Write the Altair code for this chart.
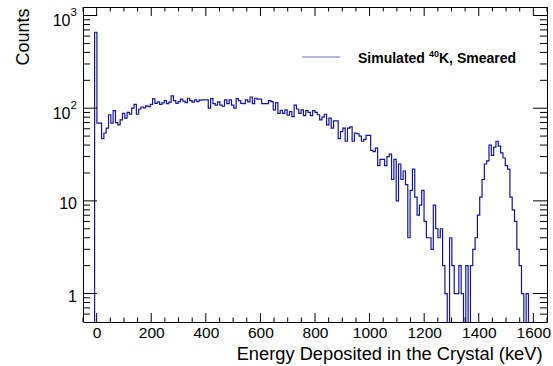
import altair as alt
import pandas as pd

# Histogram binning (keV)
BIN_LOW = -50.0
BIN_WIDTH = 8.5
X_DOMAIN = [-50, 1650]
Y_DOMAIN = [0.493, 1236]

# Bin contents, split by spectral region
counts_low = [0, 0, 0, 0, 0, 660,
              69, 69, 47, 54, 61, 85, 69, 94, 70, 66,
              75, 88, 78, 90, 86, 100, 110, 86, 98, 103,
              101, 106, 104, 110, 126, 113, 117, 110, 114, 121,
              112, 116, 136, 121, 113, 118, 125, 119, 115, 128,
              121, 116, 123, 118, 122, 123]
counts_mid = [123, 123, 100, 127, 112, 108, 117, 108, 105, 123,
              112, 123, 108, 100, 127, 121, 113, 112, 123, 117,
              132, 112, 128, 125, 125, 112, 112, 112, 121, 118,
              96, 115, 88, 95, 88, 96, 84, 92, 81, 108, 98, 88]
counts_edge = [96, 83, 94, 90, 83, 94, 90, 85, 75, 80,
               86, 66, 78, 61, 73, 73, 47, 56, 61, 44,
               61, 63, 44, 54, 53, 50, 44, 46, 51, 51,
               35, 34, 37, 24, 28, 28, 24, 30, 32, 17,
               28, 10, 25, 17, 21, 15, 4, 13, 22]
counts_peak = [11, 7, 9, 13, 6, 4, 4, 3, 9, 5,
               4, 5, 2, 1, 0, 4, 2, 1, 1, 2,
               1, 0, 2, 0, 2, 3, 4, 7, 11, 17,
               25, 27, 40, 31, 38, 44, 39, 33, 29, 24,
               22, 11, 8, 6, 3, 2, 1, 0, 1,
               0, 0, 0, 0, 0, 0, 0, 0]

x_major = [0, 200, 400, 600, 800, 1000, 1200, 1400, 1600]
x_minor = [v for v in range(-50, 1651, 50) if v % 200 != 0]
y_major = [1, 10, 100, 1000]
y_label_base = ["1", "10", "10", "10"]
y_label_exp = ["", "", "2", "3"]
y_minor = [0.6, 0.7, 0.8, 0.9, 2, 3, 4, 5, 6, 7, 8, 9,
           20, 30, 40, 50, 60, 70, 80, 90, 200, 300, 400, 500, 600, 700, 800, 900]

legend_parts = ["Simulated", "40", "K, Smeared"]
x_title = "Energy Deposited in the Crystal (keV)"
y_title = "Counts"

FONT = "Liberation Sans"
LINE_COLOR = "#1414a0"
W, H = 464, 315

counts = counts_low + counts_mid + counts_edge + counts_peak
edges = [BIN_LOW + BIN_WIDTH * i for i in range(len(counts) + 1)]
hist = pd.DataFrame({"energy": edges, "counts": counts + [counts[-1]]})

xscale = alt.Scale(domain=X_DOMAIN, nice=False, zero=False)
yscale = alt.Scale(type="log", domain=Y_DOMAIN, nice=False)

xaxis = alt.Axis(values=x_major, format="d", title=x_title, labelFontSize=15.5, labelFont=FONT,
                 labelColor="black", labelPadding=3, labelFlush=False,
                 titleFont=FONT, titleFontSize=18.3, titleFontWeight="normal",
                 titleColor="black", titleAnchor="end", titleAlign="right",
                 titleX=459, titleY=37, titleBaseline="alphabetic")
# y labels are drawn as text marks (for the raised exponents); the axis keeps the title
yaxis = alt.Axis(values=y_major, labels=False, title=y_title,
                 titleFont=FONT, titleFontSize=18, titleFontWeight="normal",
                 titleColor="black", titleAngle=270, titleAlign="right",
                 titleBaseline="alphabetic", titleX=-55, titleY=1)

# Empty bins are pushed below the frame and clipped, as on a log plot
spectrum = alt.Chart(hist).transform_calculate(
    shown="max(datum.counts, 0.05)"
).mark_line(interpolate="step-after", color=LINE_COLOR, strokeWidth=1.2, clip=True).encode(
    x=alt.X("energy:Q", scale=xscale, axis=xaxis),
    y=alt.Y("shown:Q", scale=yscale, axis=yaxis),
)


def x_ticks(vals, length):
    df = pd.DataFrame({"v": vals})
    base = alt.Chart(df).mark_rule(color="black", strokeWidth=1)
    bottom = base.encode(x=alt.X("v:Q", scale=xscale, axis=xaxis),
                         y=alt.value(H), y2=alt.value(H - length))
    top = base.encode(x=alt.X("v:Q", scale=xscale, axis=xaxis),
                      y=alt.value(0), y2=alt.value(length))
    return [bottom, top]


def y_ticks(vals, length):
    df = pd.DataFrame({"v": vals})
    base = alt.Chart(df).mark_rule(color="black", strokeWidth=1)
    left = base.encode(y=alt.Y("v:Q", scale=yscale, axis=yaxis),
                       x=alt.value(0), x2=alt.value(length))
    right = base.encode(y=alt.Y("v:Q", scale=yscale, axis=yaxis),
                        x=alt.value(W), x2=alt.value(W - length))
    return [left, right]


ticks = (x_ticks(x_major, 9) + x_ticks(x_minor, 4.5)
         + y_ticks(y_major, 14) + y_ticks(y_minor, 7))

ylab = pd.DataFrame({"v": y_major, "base": y_label_base, "exp": y_label_exp})
# plain labels sit a little below their tick; exponent labels are raised as a whole
ylab_plain = alt.Chart(ylab).transform_filter("datum.exp == ''").mark_text(
    align="right", baseline="alphabetic", font=FONT, fontSize=16, color="black", dy=8.3
).encode(y=alt.Y("v:Q", scale=yscale, axis=yaxis), text="base:N", x=alt.value(-6))
ylab_pow = alt.Chart(ylab).transform_filter("datum.exp != ''").mark_text(
    align="right", baseline="alphabetic", font=FONT, fontSize=16, color="black", dy=10.9
).encode(y=alt.Y("v:Q", scale=yscale, axis=yaxis), text="base:N", x=alt.value(-12.5))
ylab_exp = alt.Chart(ylab).transform_filter("datum.exp != ''").mark_text(
    align="right", baseline="alphabetic", font=FONT, fontSize=11.5, color="black", dy=0.9
).encode(y=alt.Y("v:Q", scale=yscale, axis=yaxis), text="exp:N", x=alt.value(-6))

one = pd.DataFrame({"t": [""]})
legend_line = alt.Chart(one).mark_rule(color=LINE_COLOR, strokeWidth=1.2, opacity=0.6).encode(
    x=alt.value(219), x2=alt.value(257), y=alt.value(50))


def label(text, x, y, size):
    df = pd.DataFrame({"t": [text]})
    return alt.Chart(df).mark_text(align="left", baseline="alphabetic", font=FONT,
                                   fontSize=size, fontWeight="bold", color="black").encode(
        text="t:N", x=alt.value(x), y=alt.value(y))


legend_text = [label(legend_parts[0], 275, 56, 14),
               label(legend_parts[1], 346, 50, 9),
               label(legend_parts[2], 356, 56, 14)]

chart = alt.layer(spectrum, *ticks, ylab_plain, ylab_pow, ylab_exp,
                  legend_line, *legend_text).properties(
    width=W, height=H,
    autosize=alt.AutoSizeParams(type="none"),
    padding={"left": 83, "top": 7, "right": 6, "bottom": 44},
).configure_view(stroke="black", strokeWidth=1).configure_axis(
    domain=False, ticks=False, grid=False, labelOverlap=False
)

chart.save("out.html", embed_options={"renderer": "svg", "actions": False})
